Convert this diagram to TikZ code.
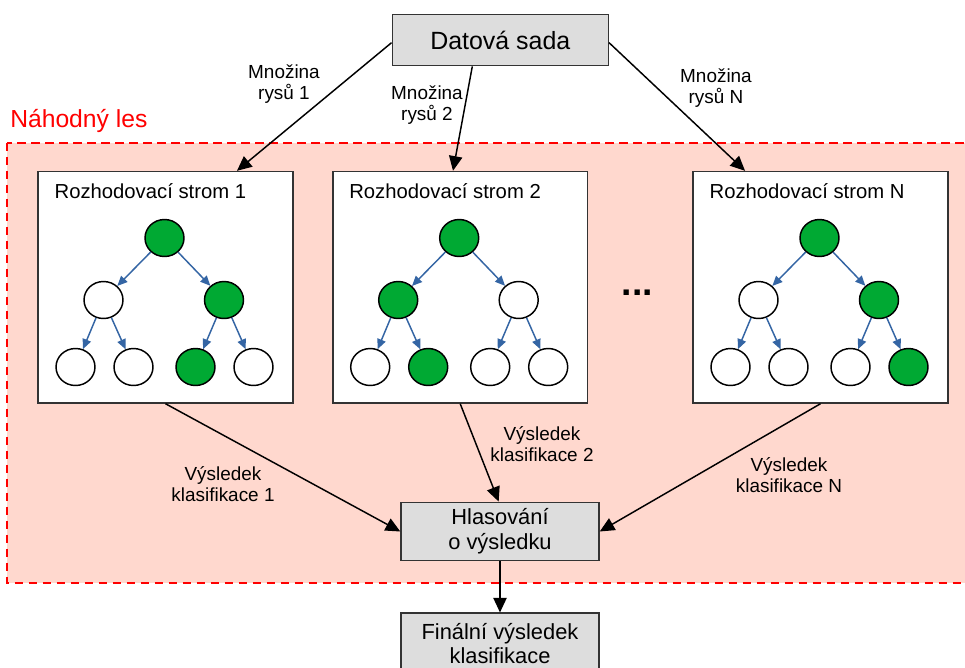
\documentclass[tikz,border=0pt]{standalone}
\usepackage{fontspec}
\setmainfont{Liberation Sans}
\usetikzlibrary{arrows.meta,shapes.geometric,calc}
\definecolor{salmon}{RGB}{255,216,206}
\definecolor{boxgray}{RGB}{221,221,221}
\definecolor{lgreen}{RGB}{0,169,51}
\definecolor{edgeblue}{RGB}{52,101,164}
\definecolor{bord}{RGB}{51,51,51}
\begin{document}
\begin{tikzpicture}[x=0.75pt,y=-0.75pt,
  graybox/.style={draw=bord, line width=1.1pt, fill=boxgray, align=center, inner sep=0pt,
    font=\fontsize{16.4pt}{18.5pt}\selectfont},
  treebox/.style={draw=bord, line width=1.1pt, fill=white, minimum width=191.1pt,
    minimum height=173.6pt, inner sep=0pt},
  treetitle/.style={anchor=base west, inner sep=0pt, font=\fontsize{15.2pt}{18pt}\selectfont},
  elabel/.style={align=center, inner sep=0pt, font=\fontsize{14.2pt}{15.4pt}\selectfont},
  circnode/.style={ellipse, draw=black, line width=1.1pt, minimum width=29.25pt,
    minimum height=27.75pt, inner sep=0pt},
  gnode/.style={circnode, fill=lgreen},
  wnode/.style={circnode, fill=white},
  mainarrow/.style={draw=black, line width=1.1pt, -{Triangle[length=11pt,width=10pt]}},
  treearrow/.style={draw=edgeblue, line width=1.1pt, -{Triangle[length=7.5pt,width=6.5pt]}},
]
\clip (0,0) rectangle (965,668);
\fill[white] (0,0) rectangle (965,668);

% forest region
\draw[red, line width=1.4pt, dash pattern=on 6.5pt off 4pt, fill=salmon]
  (7.3,142.7) rectangle (990,583.3);
\node[anchor=base west, inner sep=0pt, text=red, font=\fontsize{18.5pt}{20pt}\selectfont]
  (forest) at (10,127) {Náhodný les};

% top box
\node[graybox, minimum width=162pt, minimum height=38.5pt, font=\fontsize{18.7pt}{20pt}\selectfont]
  (data) at (500.3,40) {Datová sada};

% trees
\foreach \t/\cx/\sa/\sb/\sc/\sd/\se/\sf/\sg in
  {1/165.5/gnode/wnode/gnode/wnode/wnode/gnode/wnode,
   2/460.2/gnode/gnode/wnode/wnode/gnode/wnode/wnode,
   N/820.5/gnode/wnode/gnode/wnode/wnode/wnode/gnode}{
  \node[treebox] (t\t) at (\cx,287.25) {};
  \node[treetitle] (t\t title) at ($(t\t.north west)+(17,27.5)$) {Rozhodovací strom \t};
  \node[\sa] (t\t r) at (\cx-1,238) {};
  \node[\sb] (t\t a) at (\cx-62,300) {};
  \node[\sc] (t\t b) at (\cx+58.5,300) {};
  \node[\sd] (t\t aa) at (\cx-90,367) {};
  \node[\se] (t\t ab) at (\cx-32,367) {};
  \node[\sf] (t\t ba) at (\cx+30,367) {};
  \node[\sg] (t\t bb) at (\cx+88,367) {};
  \draw[treearrow] (t\t r) -- (t\t a);
  \draw[treearrow] (t\t r) -- (t\t b);
  \draw[treearrow] (t\t a) -- (t\t aa);
  \draw[treearrow] (t\t a) -- (t\t ab);
  \draw[treearrow] (t\t b) -- (t\t ba);
  \draw[treearrow] (t\t b) -- (t\t bb);
}

\node[anchor=base, inner sep=0pt, font=\bfseries\fontsize{28pt}{30pt}\selectfont]
  (dots) at (637.5,295.5) {...};

% voting and final boxes
\node[graybox, minimum width=148.5pt, minimum height=43.8pt] (hl) at (500,531.5)
  {Hlasování\\o výsledku};
\node[graybox, minimum width=148.5pt, minimum height=45.75pt] (fin) at (500,643.7)
  {Finální výsledek\\klasifikace};

% arrows from data
\draw[mainarrow] ([yshift=-2pt]data.west) -- ([xshift=53.6pt]t1.north);
\draw[mainarrow] ([xshift=-21pt]data.south) -- ([xshift=-5.4pt]t2.north);
\draw[mainarrow] ([yshift=-2pt]data.east) -- ([xshift=-56.6pt]tN.north);

% arrows to voting
\draw[mainarrow] (t1.south) -- (hl.west);
\draw[mainarrow] (t2.south) -- ([xshift=-1pt]hl.north);
\draw[mainarrow] (tN.south) -- (hl.east);
\draw[mainarrow] (hl.south) -- (fin.north);

% labels
\node[elabel] (l1) at (284,84) {Množina\\rysů 1};
\node[elabel] (l2) at (427,105) {Množina\\rysů 2};
\node[elabel] (lN) at (716,88) {Množina\\rysů N};
\node[elabel] (r1) at (223,484) {Výsledek\\klasifikace 1};
\node[elabel] (r2) at (542,444) {Výsledek\\klasifikace 2};
\node[elabel] (rN) at (789,475) {Výsledek\\klasifikace N};
\end{tikzpicture}
\end{document}
